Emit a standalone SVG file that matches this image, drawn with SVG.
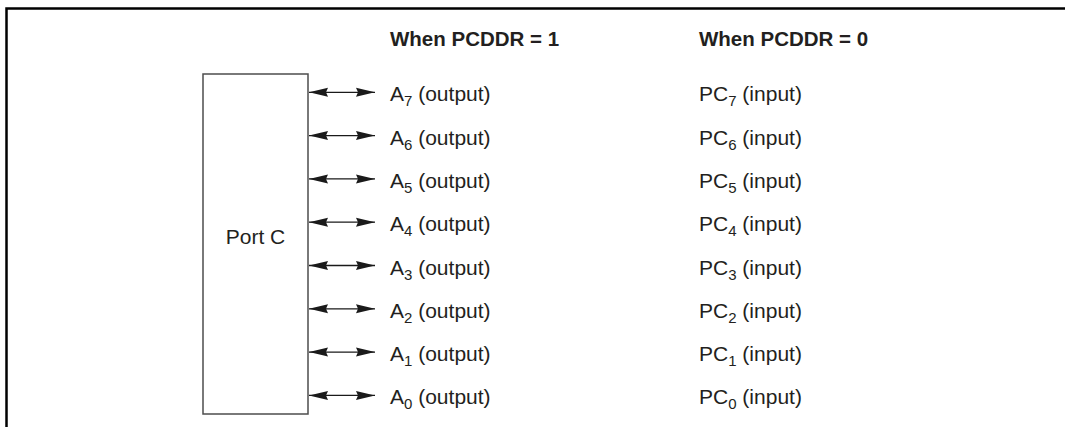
<svg xmlns="http://www.w3.org/2000/svg" width="1065" height="427" viewBox="0 0 1065 427">
<defs>
<marker id="ah" viewBox="0 0 19 10" refX="19" refY="5" markerWidth="19" markerHeight="10" markerUnits="userSpaceOnUse" orient="auto-start-reverse">
<path d="M0,0.5 L19,5 L0,9.5 L2,5 Z" fill="#1a1a1a"/>
</marker>
<style>
text{font-family:"Liberation Sans",Arial,sans-serif;font-size:21px;fill:#231f20}
.h{font-weight:bold;font-size:20.5px}
.c{stroke:#1a1a1a;stroke-width:1.3;fill:none;marker-start:url(#ah);marker-end:url(#ah)}
.s{font-size:15px}
</style>
</defs>
<rect width="1065" height="427" fill="#fff"/>
<g id="frame"><path d="M6.5,427 V8.5 H1065" fill="none" stroke="#000" stroke-width="2.5"/></g>
<g id="headings">
<text class="h" x="390" y="46">When PCDDR = 1</text>
<text class="h" x="699" y="46">When PCDDR = 0</text>
</g>
<g id="portc">
<rect x="203" y="74" width="105" height="340" fill="#fff" stroke="#4d4d4d" stroke-width="1.5"/>
<text x="255.5" y="244" text-anchor="middle">Port C</text>
</g>
<g id="connectors">
<line class="c" x1="309" y1="92.3" x2="375" y2="92.3"/>
<line class="c" x1="309" y1="135.6" x2="375" y2="135.6"/>
<line class="c" x1="309" y1="178.9" x2="375" y2="178.9"/>
<line class="c" x1="309" y1="222.2" x2="375" y2="222.2"/>
<line class="c" x1="309" y1="265.5" x2="375" y2="265.5"/>
<line class="c" x1="309" y1="308.8" x2="375" y2="308.8"/>
<line class="c" x1="309" y1="352.1" x2="375" y2="352.1"/>
<line class="c" x1="309" y1="395.4" x2="375" y2="395.4"/>
</g>
<g id="outputs">
<text x="390" y="101.3">A<tspan class="s" dy="5">7</tspan><tspan dy="-5"> (output)</tspan></text>
<text x="390" y="144.6">A<tspan class="s" dy="5">6</tspan><tspan dy="-5"> (output)</tspan></text>
<text x="390" y="187.9">A<tspan class="s" dy="5">5</tspan><tspan dy="-5"> (output)</tspan></text>
<text x="390" y="231.2">A<tspan class="s" dy="5">4</tspan><tspan dy="-5"> (output)</tspan></text>
<text x="390" y="274.5">A<tspan class="s" dy="5">3</tspan><tspan dy="-5"> (output)</tspan></text>
<text x="390" y="317.8">A<tspan class="s" dy="5">2</tspan><tspan dy="-5"> (output)</tspan></text>
<text x="390" y="361.1">A<tspan class="s" dy="5">1</tspan><tspan dy="-5"> (output)</tspan></text>
<text x="390" y="404.4">A<tspan class="s" dy="5">0</tspan><tspan dy="-5"> (output)</tspan></text>
</g>
<g id="inputs">
<text x="699" y="101.3">PC<tspan class="s" dy="5">7</tspan><tspan dy="-5"> (input)</tspan></text>
<text x="699" y="144.6">PC<tspan class="s" dy="5">6</tspan><tspan dy="-5"> (input)</tspan></text>
<text x="699" y="187.9">PC<tspan class="s" dy="5">5</tspan><tspan dy="-5"> (input)</tspan></text>
<text x="699" y="231.2">PC<tspan class="s" dy="5">4</tspan><tspan dy="-5"> (input)</tspan></text>
<text x="699" y="274.5">PC<tspan class="s" dy="5">3</tspan><tspan dy="-5"> (input)</tspan></text>
<text x="699" y="317.8">PC<tspan class="s" dy="5">2</tspan><tspan dy="-5"> (input)</tspan></text>
<text x="699" y="361.1">PC<tspan class="s" dy="5">1</tspan><tspan dy="-5"> (input)</tspan></text>
<text x="699" y="404.4">PC<tspan class="s" dy="5">0</tspan><tspan dy="-5"> (input)</tspan></text>
</g>
</svg>
